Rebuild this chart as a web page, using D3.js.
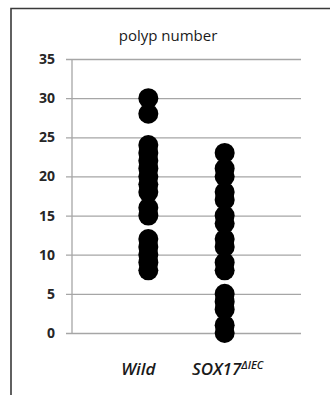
<!DOCTYPE html>
<html>
<head>
<meta charset="utf-8">
<script src="https://cdn.jsdelivr.net/npm/d3@7"></script>
<style>
  html, body { margin: 0; padding: 0; background: #fff; }
  svg { display: block; }
</style>
</head>
<body>
<svg id="chart" width="330" height="395"></svg>
<script>
// Polyp counts per animal, plotted as one column of dots per genotype
const categories = ["Wild", "SOX17"];
const wildValues = [30, 28, 24, 23, 22, 21, 20, 19, 18, 16, 15, 12, 11, 10, 9, 8];
const soxValues = [23, 21, 20, 18, 17, 15, 14, 12, 11, 9, 8, 5, 4, 3, 1, 0];
const yTicks = [0, 5, 10, 15, 20, 25, 30, 35];
const title = "polyp number";

const svg = d3.select("#chart");

// Outer frame (continues past the right and bottom edges)
svg.append("path")
  .attr("d", "M11,400 L11,8.5 L335,8.5")
  .attr("fill", "none")
  .attr("stroke", "#3a3a3a")
  .attr("stroke-width", 1.6);

const plot = { left: 72, right: 301, top: 59, bottom: 333 };

const y = d3.scaleLinear().domain([0, 35]).range([plot.bottom, plot.top]);
const x = d3.scaleLinear().domain([0, 3]).range([plot.left, plot.right]);

// Horizontal gridlines with tick labels
const yAxis = d3.axisLeft(y)
  .tickValues(yTicks)
  .tickSize(-(plot.right - plot.left))
  .tickSizeOuter(0)
  .tickPadding(17);

const gy = svg.append("g")
  .attr("transform", `translate(${plot.left},0)`)
  .call(yAxis);
gy.select(".domain").remove();
gy.selectAll(".tick line")
  .attr("x1", -6)
  .attr("stroke", "#a6a6a6")
  .attr("stroke-width", 1.3);
gy.selectAll(".tick text")
  .attr("fill", "#262626")
  .style("font-family", "'Open Sans', sans-serif")
  .style("font-weight", "bold")
  .style("font-size", "14px");

// Vertical axis line
svg.append("line")
  .attr("x1", plot.left).attr("x2", plot.left)
  .attr("y1", y(35)).attr("y2", y(0))
  .attr("stroke", "#a6a6a6")
  .attr("stroke-width", 1.3);

// Title
svg.append("text")
  .attr("x", 168)
  .attr("y", 41)
  .attr("text-anchor", "middle")
  .attr("fill", "#1a1a1a")
  .style("font-family", "'Open Sans', sans-serif")
  .style("font-size", "15px")
  .text(title);

// Dots
const defs = svg.append("defs");
defs.append("filter").attr("id", "soft")
  .append("feGaussianBlur").attr("stdDeviation", 0.5);

const series = [
  { values: wildValues, pos: 1 },
  { values: soxValues, pos: 2 }
];

series.forEach(s => {
  svg.append("g")
    .attr("filter", "url(#soft)")
    .selectAll("circle")
    .data(s.values)
    .join("circle")
    .attr("cx", x(s.pos))
    .attr("cy", d => y(d))
    .attr("r", 10)
    .attr("fill", "#000");
});

// Category labels
const labelStyle = sel => sel
  .attr("fill", "#1a1a1a")
  .style("font-family", "'Open Sans', sans-serif")
  .style("font-style", "italic")
  .style("font-weight", "600")
  .style("font-size", "17px");

svg.append("text")
  .attr("x", x(1) - 10)
  .attr("y", 374.5)
  .attr("text-anchor", "middle")
  .call(labelStyle)
  .text(categories[0]);

const sox = svg.append("text")
  .attr("x", x(2) + 3)
  .attr("y", 374.5)
  .attr("text-anchor", "middle")
  .call(labelStyle);
sox.append("tspan").text(categories[1]);
sox.append("tspan")
  .attr("dy", -6)
  .style("font-size", "11px")
  .text("ΔIEC");
</script>
</body>
</html>
